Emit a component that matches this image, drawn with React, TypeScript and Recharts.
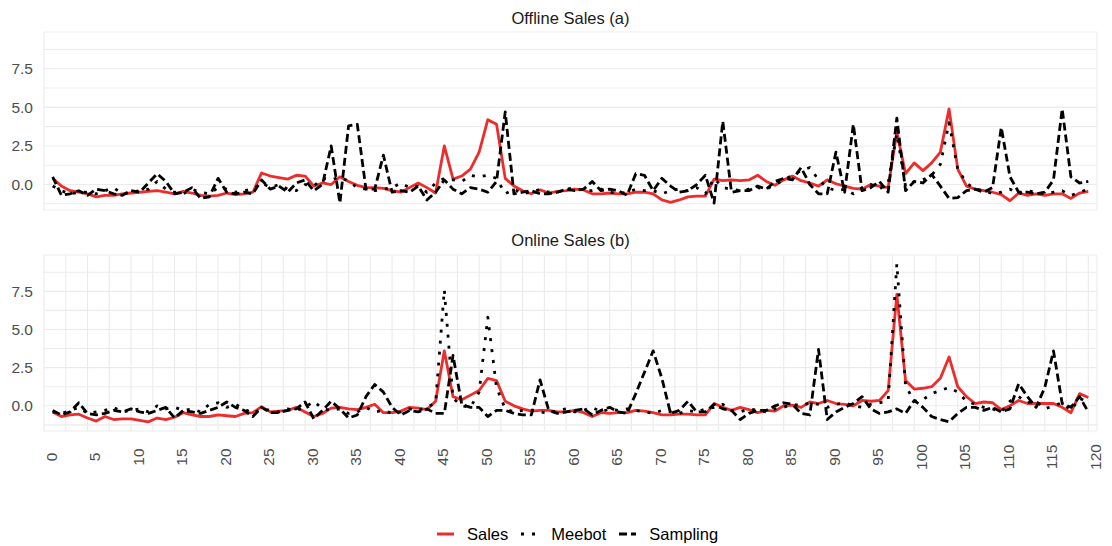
import React from "react";
import { LineChart, Line, XAxis, YAxis, CartesianGrid, Legend } from "recharts";

// ---------- data ----------
const days = [
  1, 2, 3, 4, 5, 6, 7, 8, 9, 10, 11, 12, 13, 14, 15, 16, 17, 18, 19, 20,
  21, 22, 23, 24, 25, 26, 27, 28, 29, 30, 31, 32, 33, 34, 35, 36, 37, 38, 39, 40,
  41, 42, 43, 44, 45, 46, 47, 48, 49, 50, 51, 52, 53, 54, 55, 56, 57, 58, 59, 60,
  61, 62, 63, 64, 65, 66, 67, 68, 69, 70, 71, 72, 73, 74, 75, 76, 77, 78, 79, 80,
  81, 82, 83, 84, 85, 86, 87, 88, 89, 90, 91, 92, 93, 94, 95, 96, 97, 98, 99, 100,
  101, 102, 103, 104, 105, 106, 107, 108, 109, 110, 111, 112, 113, 114, 115, 116, 117, 118, 119, 120,
];

const offlineSales = [
  0.4, -0.1, -0.4, -0.5, -0.6, -0.8, -0.7, -0.7, -0.6, -0.55,
  -0.5, -0.45, -0.4, -0.5, -0.6, -0.45, -0.55, -0.7, -0.75, -0.7,
  -0.55, -0.65, -0.6, -0.5, 0.75, 0.55, 0.45, 0.35, 0.6, 0.55,
  -0.1, 0.1, 0.0, 0.5, 0.2, -0.05, -0.2, -0.2, -0.25, -0.4,
  -0.5, -0.2, 0.1, -0.2, -0.55, 2.5, 0.35, 0.55, 1.0, 2.1,
  4.2, 3.9, 0.4, -0.1, -0.4, -0.6, -0.35, -0.55, -0.45, -0.4,
  -0.3, -0.35, -0.6, -0.6, -0.55, -0.6, -0.6, -0.5, -0.5, -0.6,
  -1.0, -1.15, -1.0, -0.8, -0.75, -0.75, 0.35, 0.25, 0.3, 0.25,
  0.3, 0.6, 0.2, -0.05, 0.3, 0.55, 0.25, 0.1, -0.1, 0.3,
  0.05, -0.1, -0.25, -0.3, 0.0, -0.1, -0.2, 3.4, 0.7, 1.4,
  0.9, 1.4, 2.1, 4.9, 1.0, -0.1, -0.3, -0.4, -0.5, -0.65,
  -1.05, -0.55, -0.7, -0.6, -0.7, -0.6, -0.6, -0.9, -0.55, -0.45,
];

const offlineMeebot = [
  -0.1, -0.4, -0.6, -0.5, -0.5, -0.6, -0.4, -0.2, -0.6, -0.5,
  -0.4, -0.3, 0.2, -0.3, -0.5, -0.6, -0.3, -0.5, -0.6, -0.2,
  -0.3, -0.5, -0.4, -0.3, 0.1, -0.2, 0.0, -0.3, -0.4, 0.0,
  -0.1, 0.4, 0.3, 0.5, 0.2, -0.2, -0.3, -0.4, -0.3, -0.2,
  0.1, -0.2, -0.1, -0.5, 0.1, 0.4, 0.3, 0.2, 0.6, 0.5,
  0.6, 0.4, -0.6, -0.3, -0.6, -0.5, -0.3, -0.5, -0.5, -0.3,
  -0.2, -0.4, -0.4, -0.3, -0.5, -0.6, -0.5, -0.3, -0.4, -0.4,
  -0.6, -0.4, -0.3, -0.4, -0.2, -0.6, 0.4, -0.2, -0.3, -0.4,
  -0.3, -0.2, -0.3, 0.0, 0.3, 0.6, 0.9, 1.1, 0.3, -0.2,
  -0.4, -0.3, -0.6, -0.2, 0.0, -0.3, 0.1, 3.3, -0.1, 0.2,
  0.3, 0.6, 1.3, 4.0, 1.0, 0.1, -0.3, -0.4, -0.6, -0.5,
  -0.3, -0.6, -0.4, -0.5, -0.6, -0.5, -0.4, -0.7, -0.5, -0.3,
];

const offlineSampling = [
  0.5, -0.7, -0.6, -0.4, -0.7, -0.3, -0.4, -0.6, -0.7, -0.4,
  -0.5, 0.1, 0.7, 0.2, -0.6, -0.5, -0.2, -0.9, -0.8, 0.4,
  -0.5, -0.6, -0.5, -0.6, 0.3, -0.3, -0.1, -0.5, 0.1, 0.3,
  -0.4, 0.0, 2.5, -1.2, 3.8, 3.9, -0.3, -0.3, 1.9, -0.5,
  -0.4, -0.5, -0.1, -1.0, -0.5, 0.3, -0.3, -0.6, -0.2, -0.3,
  -0.5, 0.2, 4.7, -0.6, -0.5, -0.4, -0.6, -0.6, -0.5, -0.3,
  -0.4, -0.3, 0.2, -0.4, -0.3, -0.4, -0.7, 0.7, 0.6, -0.4,
  0.4, -0.1, -0.5, -0.4, 0.0, 0.6, -1.2, 4.1, -0.5, -0.4,
  -0.4, -0.1, -0.3, 0.2, 0.4, 0.3, 1.1, 0.0, -0.6, -0.6,
  2.1, -0.5, 3.9, -0.4, -0.2, 0.2, -0.5, 4.3, -0.4, 0.2,
  0.1, 0.65, -0.1, -0.9, -0.85, -0.4, -0.3, -0.5, -0.2, 3.7,
  0.5, -0.5, -0.5, -0.6, -0.5, 0.3, 4.9, 0.5, 0.1, 0.2,
];

const onlineSales = [
  -0.4, -0.7, -0.6, -0.55, -0.8, -1.0, -0.7, -0.9, -0.85, -0.85,
  -0.95, -1.05, -0.8, -0.9, -0.75, -0.45, -0.6, -0.7, -0.7, -0.6,
  -0.65, -0.7, -0.5, -0.45, -0.05, -0.4, -0.35, -0.3, -0.1, -0.4,
  -0.7, -0.5, -0.15, -0.1, -0.2, -0.25, -0.1, 0.1, -0.45, -0.45,
  -0.35, -0.1, -0.15, -0.25, 0.3, 3.6, 0.6, 0.4, 0.7, 1.0,
  1.8, 1.65, 0.3, 0.0, -0.2, -0.35, -0.3, -0.3, -0.4, -0.4,
  -0.3, -0.45, -0.7, -0.45, -0.5, -0.45, -0.45, -0.3, -0.35, -0.45,
  -0.6, -0.6, -0.55, -0.55, -0.6, -0.6, 0.15, -0.1, -0.3, -0.1,
  -0.25, -0.45, -0.3, -0.35, 0.0, 0.05, -0.1, 0.25, 0.15, 0.35,
  0.15, 0.1, 0.0, 0.35, 0.3, 0.35, 1.0, 7.3, 1.65, 1.1,
  1.15, 1.25, 1.8, 3.2, 1.25, 0.6, 0.15, 0.25, 0.2, -0.25,
  0.0, 0.35, 0.15, 0.15, 0.15, 0.15, -0.1, -0.45, 0.8, 0.55,
];

const onlineMeebot = [
  -0.4, -0.5, -0.3, -0.1, -0.5, -0.4, -0.3, -0.1, -0.4, -0.3,
  -0.2, -0.4, 0.0, -0.2, -0.1, -0.3, -0.2, -0.4, 0.1, 0.2,
  -0.1, 0.1, -0.2, -0.5, -0.2, -0.3, -0.4, -0.2, -0.3, -0.1,
  0.3, -0.2, -0.3, -0.2, -0.5, -0.4, -0.1, -0.4, -0.3, -0.5,
  -0.4, -0.2, -0.3, -0.1, 0.2, 7.6, 0.5, 0.0, -0.1, 0.9,
  5.8, 1.2, -0.2, -0.4, -0.3, -0.3, -0.4, -0.5, -0.3, -0.2,
  -0.4, -0.3, -0.1, -0.4, -0.2, -0.3, -0.2, -0.3, -0.4, -0.5,
  -0.3, -0.4, -0.5, -0.3, -0.4, -0.2, -0.1, 0.1, -0.3, -0.4,
  -0.2, -0.3, -0.4, -0.2, -0.1, 0.1, 0.0, 0.2, 0.1, -0.1,
  0.1, 0.2, 0.0, -0.1, 0.1, 0.2, 0.3, 9.3, 1.3, 0.3,
  0.4, 0.8, 1.0, 1.2, 0.9, 0.3, 0.1, -0.1, -0.2, -0.4,
  0.3, 0.6, 0.2, 0.3, -0.2, 0.0, 0.2, -0.3, 0.5, 0.2,
];

const onlineSampling = [
  -0.3, -0.6, -0.4, 0.2, -0.5, -0.6, -0.5, -0.3, -0.4, -0.2,
  -0.4, -0.5, -0.3, -0.1, -0.8, -0.3, -0.4, -0.5, -0.3, -0.1,
  0.25, -0.1, -0.3, -0.7, -0.1, -0.45, -0.45, -0.3, -0.2, 0.25,
  -0.85, -0.3, 0.3, -0.2, -0.8, -0.6, 0.6, 1.4, 0.9, -0.1,
  -0.6, -0.3, -0.4, -0.2, -0.5, -0.5, 3.3, 0.1, -0.1, -0.1,
  -0.7, -0.3, -0.3, -0.5, -0.6, -0.6, 1.7, -0.3, -0.5, -0.4,
  -0.3, -0.2, -0.6, -0.3, -0.1, -0.4, -0.5, 0.8, 2.2, 3.6,
  1.8, -0.5, -0.3, 0.3, -0.4, -0.4, 0.1, -0.2, -0.3, -0.9,
  -0.5, -0.3, -0.3, 0.0, 0.2, 0.1, -0.5, -0.6, 3.7, -0.9,
  -0.4, -0.1, 0.15, 0.6, -0.2, -0.5, -0.4, -0.2, -0.5, 0.35,
  -0.1, -0.7, -0.9, -1.05, -0.5, -0.1, -0.1, -0.3, -0.1, -0.4,
  -0.2, 1.45, 0.6, -0.1, 1.2, 3.6, 0.15, -0.1, 0.6, -0.4,
];

const panelTitles = ["Offline Sales (a)", "Online Sales (b)"];
const seriesNames = ["Sales", "Meebot", "Sampling"];

const xTicks = [
  0, 2.5, 5, 7.5, 10, 12.5, 15, 17.5, 20, 22.5, 25, 27.5, 30, 32.5, 35, 37.5, 40, 42.5,
  45, 47.5, 50, 52.5, 55, 57.5, 60, 62.5, 65, 67.5, 70, 72.5, 75, 77.5, 80, 82.5, 85,
  87.5, 90, 92.5, 95, 97.5, 100, 102.5, 105, 107.5, 110, 112.5, 115, 117.5, 120,
];
const yTicks = [-1.25, 0, 1.25, 2.5, 3.75, 5, 6.25, 7.5, 8.75];

// ---------- build tables ----------
const offlineData = days.map((d, i) => ({
  day: d,
  Sales: offlineSales[i],
  Meebot: offlineMeebot[i],
  Sampling: offlineSampling[i],
}));
const onlineData = days.map((d, i) => ({
  day: d,
  Sales: onlineSales[i],
  Meebot: onlineMeebot[i],
  Sampling: onlineSampling[i],
}));

// ---------- styles ----------
const FONT = "'Liberation Sans', Arial, Helvetica, sans-serif";
const TICK_COLOR = "#4D4D4D";
const GRID_COLOR = "#EBEBEB";
const RED = "#EE2C2C";
const seriesStyle: Record<string, { color: string; dash?: string }> = {
  Sales: { color: RED },
  Meebot: { color: "#000000", dash: "3 8" },
  Sampling: { color: "#000000", dash: "8 4" },
};
const X_DOMAIN: [number, number] = [0, 121];
const Y_DOMAIN: [number, number] = [-1.65, 9.88];
const CHART_W = 1112;

const YTick = (props: any) => {
  const { x, y, payload } = props;
  const v = payload.value;
  if (Math.abs(v % 2.5) > 1e-9) return null;
  return (
    <text x={x} y={y} textAnchor="end" dominantBaseline="central" fill={TICK_COLOR} fontSize={15.5} fontFamily={FONT}>
      {v.toFixed(1)}
    </text>
  );
};

const XTick = (props: any) => {
  const { x, y, payload } = props;
  const v = payload.value;
  if (Math.abs(v % 5) > 1e-9) return null;
  const cx = x + 7;
  const cy = y + 26;
  return (
    <text
      x={cx}
      y={cy}
      transform={`rotate(-90, ${cx}, ${cy})`}
      textAnchor="middle"
      dominantBaseline="central"
      fill={TICK_COLOR}
      fontSize={15.5}
      fontFamily={FONT}
    >
      {v}
    </text>
  );
};

const renderLegend = () => (
  <div style={{ display: "flex", alignItems: "center", paddingLeft: 437, height: 24, fontFamily: FONT, fontSize: 16.5, color: "#000" }}>
    {seriesNames.map((name) => (
      <div key={name} style={{ display: "flex", alignItems: "center", marginRight: 13 }}>
        <svg width={17} height={10} style={{ marginRight: 13 }}>
          <line
            x1={0}
            y1={5}
            x2={17}
            y2={5}
            stroke={seriesStyle[name].color}
            strokeWidth={3}
            strokeDasharray={seriesStyle[name].dash}
          />
        </svg>
        <span>{name}</span>
      </div>
    ))}
  </div>
);

const renderLines = () =>
  seriesNames.map((name) => (
    <Line
      key={name}
      type="linear"
      dataKey={name}
      stroke={seriesStyle[name].color}
      strokeWidth={2.8}
      strokeDasharray={seriesStyle[name].dash}
      strokeLinecap="butt"
      strokeLinejoin="round"
      dot={false}
      activeDot={false}
      isAnimationActive={false}
    />
  ));

const titleStyle = (top: number): React.CSSProperties => ({
  position: "absolute",
  left: 44,
  width: 1053,
  top,
  textAlign: "center",
  fontSize: 16.5,
  lineHeight: "20px",
  color: "#1A1A1A",
  fontFamily: FONT,
});

export default function App() {
  return (
    <div
      style={{
        position: "absolute",
        left: 0,
        top: 0,
        width: CHART_W,
        height: 546,
        overflow: "hidden",
        background: "#FFFFFF",
        fontFamily: FONT,
      }}
    >
      <div style={titleStyle(8)}>{panelTitles[0]}</div>
      <div style={titleStyle(230)}>{panelTitles[1]}</div>

      <div style={{ position: "absolute", left: 0, top: 0 }}>
        <LineChart width={CHART_W} height={225} data={offlineData} margin={{ top: 32, right: 15, bottom: 15, left: 0 }}>
          <CartesianGrid stroke={GRID_COLOR} strokeWidth={1.1} />
          <XAxis
            dataKey="day"
            type="number"
            domain={X_DOMAIN}
            ticks={xTicks}
            interval={0}
            height={0}
            tick={false}
            axisLine={false}
            tickLine={false}
            allowDataOverflow
          />
          <YAxis
            type="number"
            domain={Y_DOMAIN}
            ticks={yTicks}
            interval={0}
            width={44}
            tick={<YTick />}
            tickSize={0}
            tickMargin={11}
            axisLine={false}
            tickLine={false}
            allowDataOverflow
          />
          {renderLines()}
        </LineChart>
      </div>

      <div style={{ position: "absolute", left: 0, top: 225 }}>
        <LineChart width={CHART_W} height={321} data={onlineData} margin={{ top: 30, right: 15, bottom: 0, left: 0 }}>
          <CartesianGrid stroke={GRID_COLOR} strokeWidth={1.1} />
          <XAxis
            dataKey="day"
            type="number"
            domain={X_DOMAIN}
            ticks={xTicks}
            interval={0}
            height={91}
            tick={<XTick />}
            tickSize={0}
            tickMargin={0}
            axisLine={false}
            tickLine={false}
            allowDataOverflow
          />
          <YAxis
            type="number"
            domain={Y_DOMAIN}
            ticks={yTicks}
            interval={0}
            width={44}
            tick={<YTick />}
            tickSize={0}
            tickMargin={11}
            axisLine={false}
            tickLine={false}
            allowDataOverflow
          />
          {renderLines()}
          <Legend verticalAlign="bottom" height={24} content={renderLegend} />
        </LineChart>
      </div>
    </div>
  );
}
